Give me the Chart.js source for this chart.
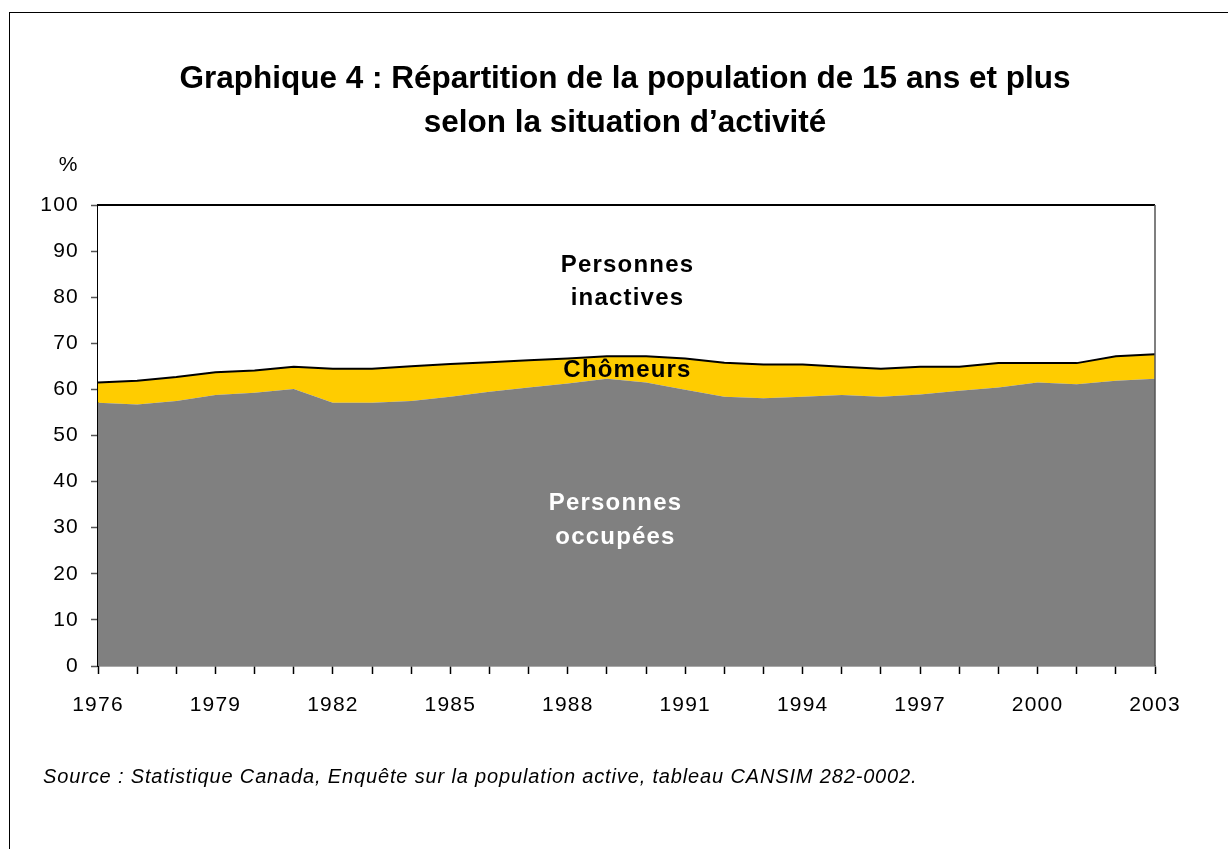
<!DOCTYPE html>
<html>
<head>
<meta charset="utf-8">
<script src="https://cdn.jsdelivr.net/npm/chart.js@4.4.0/dist/chart.umd.min.js"></script>
<style>
  html, body { margin: 0; padding: 0; background: #fff; overflow: hidden; }
  #frame { position: absolute; left: 9px; top: 12px; width: 1240px; height: 860px; border: 1px solid #000; }
  #wrap { position: absolute; left: 0; top: 0; width: 1228px; height: 849px; }
</style>
</head>
<body>
<div id="frame"></div>
<div id="wrap"><canvas id="chart" width="1228" height="849"></canvas></div>
<script>
// années
var years = ['1976','1977','1978','1979','1980','1981','1982','1983','1984','1985',
  '1986','1987','1988','1989','1990','1991','1992','1993','1994','1995',
  '1996','1997','1998','1999','2000','2001','2002','2003'];
// personnes occupées (%)
var occupees = [57.1, 56.7, 57.5, 58.8, 59.3, 60.1, 57.1, 57.1, 57.5, 58.4,
  59.5, 60.4, 61.3, 62.3, 61.5, 59.9, 58.4, 58.1, 58.4, 58.8,
  58.4, 58.9, 59.7, 60.4, 61.5, 61.1, 61.9, 62.3];
// population active totale (%)
var actifs = [61.5, 61.9, 62.7, 63.7, 64.1, 64.9, 64.5, 64.5, 65.0, 65.5,
  65.9, 66.3, 66.7, 67.2, 67.2, 66.7, 65.8, 65.4, 65.4, 64.9,
  64.5, 64.9, 64.9, 65.7, 65.7, 65.7, 67.2, 67.6];
var chomeurs = actifs.map(function(v, i) { return +(v - occupees[i]).toFixed(1); });
var inactives = actifs.map(function(v) { return +(100 - v).toFixed(1); });
var yTicks = [0, 10, 20, 30, 40, 50, 60, 70, 80, 90, 100];

var FONT = "'Liberation Sans', Arial, Helvetica, sans-serif";

// textes du graphique
var textPlugin = {
  id: 'textes',
  beforeDraw: function(chart) {
    // étiquettes des axes un peu espacées
    chart.ctx.letterSpacing = '1.2px';
  },
  afterDraw: function(chart) {
    var ctx = chart.ctx;
    var area = chart.chartArea;
    var x = chart.scales.x, y = chart.scales.y;
    var midX = (x.getPixelForValue(13) + x.getPixelForValue(14)) / 2;

    ctx.save();
    ctx.letterSpacing = '0px';
    // bordure haut / droite de la zone de tracé
    ctx.strokeStyle = '#000';
    ctx.lineWidth = 2;
    ctx.beginPath();
    ctx.moveTo(area.left, area.top);
    ctx.lineTo(area.right, area.top);
    ctx.stroke();
    ctx.strokeStyle = '#555';
    ctx.lineWidth = 1.5;
    ctx.beginPath();
    ctx.moveTo(area.right, area.top);
    ctx.lineTo(area.right, area.bottom);
    ctx.stroke();

    ctx.textAlign = 'center';
    ctx.textBaseline = 'middle';
    ctx.fillStyle = '#000';
    ctx.font = 'bold 31.5px ' + FONT;
    ctx.fillText('Graphique 4 : Répartition de la population de 15 ans et plus', 625, 79);
    ctx.fillText('selon la situation d\u2019activité', 625, 123);

    ctx.font = '21px ' + FONT;
    ctx.fillText('%', 68, 165);

    ctx.letterSpacing = '1.2px';
    ctx.font = 'bold 24px ' + FONT;
    ctx.fillText('Personnes', midX + 1, y.getPixelForValue(86.8));
    ctx.fillText('inactives', midX + 1, y.getPixelForValue(79.8));
    ctx.fillText('Chômeurs', midX + 1, y.getPixelForValue(64.2));
    ctx.fillStyle = '#fff';
    ctx.fillText('Personnes', midX - 11, y.getPixelForValue(35.3));
    ctx.fillText('occupées', midX - 11, y.getPixelForValue(28));

    ctx.fillStyle = '#000';
    ctx.textAlign = 'left';
    ctx.letterSpacing = '0.85px';
    ctx.font = 'italic 20px ' + FONT;
    ctx.fillText('Source : Statistique Canada, Enquête sur la population active, tableau CANSIM 282-0002.', 43, 777);
    ctx.restore();
  }
};

new Chart(document.getElementById('chart').getContext('2d'), {
  type: 'line',
  data: {
    labels: years,
    datasets: [{
      label: 'Personnes occupées',
      data: occupees,
      backgroundColor: '#808080',
      borderWidth: 0,
      fill: 'origin',
      pointRadius: 0,
      tension: 0
    }, {
      label: 'Chômeurs',
      data: chomeurs,
      backgroundColor: '#FFCC00',
      borderColor: '#000',
      borderWidth: 2,
      fill: '-1',
      pointRadius: 0,
      tension: 0
    }, {
      label: 'Personnes inactives',
      data: inactives,
      backgroundColor: '#fff',
      borderWidth: 0,
      fill: '-1',
      pointRadius: 0,
      tension: 0
    }]
  },
  options: {
    responsive: false,
    animation: false,
    layout: { padding: { left: 0, right: 73, top: 205, bottom: 123 } },
    plugins: {
      legend: { display: false },
      title: { display: false },
      tooltip: { enabled: false }
    },
    scales: {
      x: {
        offset: false,
        afterFit: function(scale) { scale.height = 60; },
        grid: { drawOnChartArea: false, tickLength: 8, color: '#000', tickWidth: 1.5 },
        border: { color: '#555', width: 1.5 },
        ticks: {
          autoSkip: false,
          maxRotation: 0,
          padding: 19,
          color: '#000',
          font: { family: FONT, size: 21 },
          callback: function(v, i) { return i % 3 === 0 ? years[i] : ''; }
        }
      },
      y: {
        stacked: true,
        min: 0,
        max: 100,
        afterFit: function(scale) { scale.width = 98; },
        afterBuildTicks: function(scale) { scale.ticks = yTicks.map(function(v) { return { value: v }; }); },
        grid: { drawOnChartArea: false, tickLength: 7, color: '#555', tickWidth: 1.5 },
        border: { color: '#000', width: 2 },
        ticks: {
          padding: 12,
          color: '#000',
          font: { family: FONT, size: 21 }
        }
      }
    }
  },
  plugins: [textPlugin]
});
</script>
</body>
</html>
